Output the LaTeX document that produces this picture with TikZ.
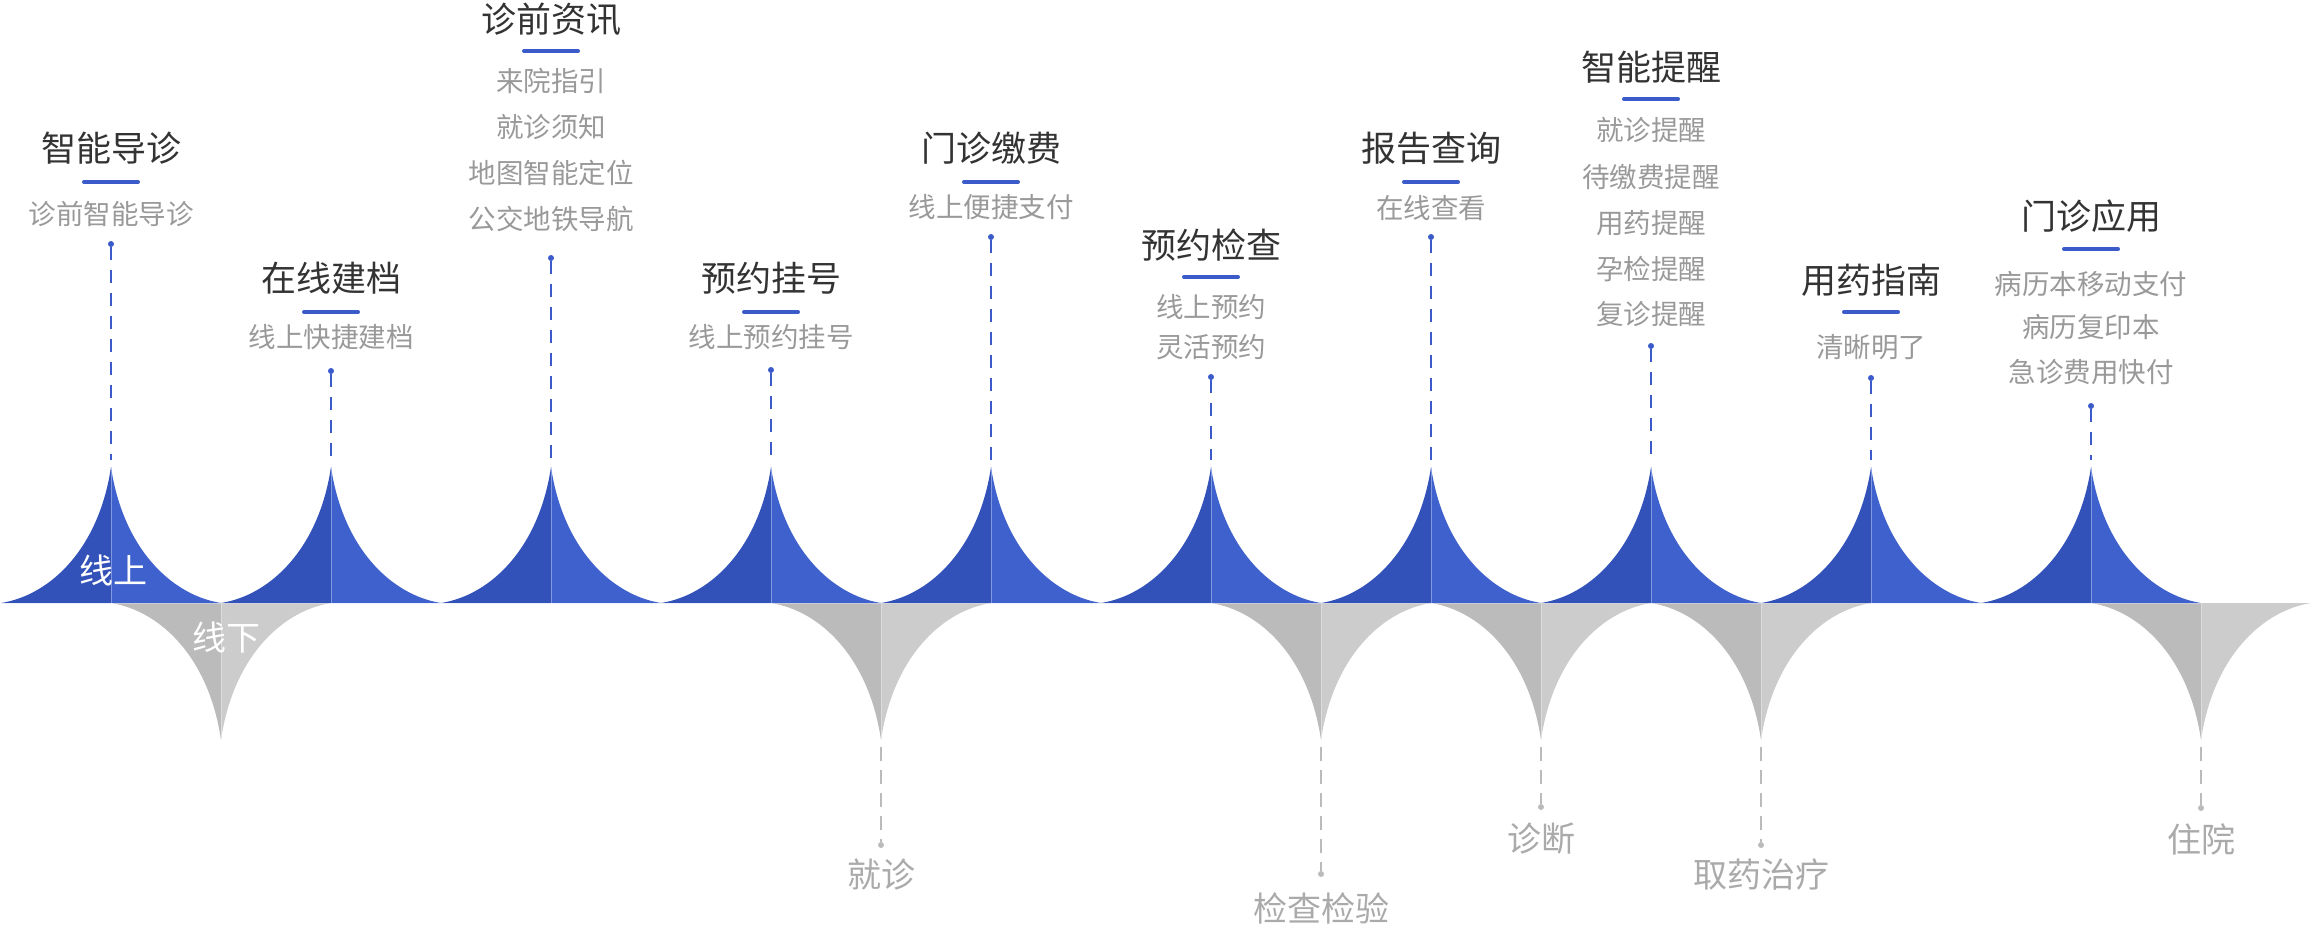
\documentclass[tikz,border=0pt]{standalone}
\usepackage{fontspec}
\setmainfont{Noto Sans CJK SC}
\definecolor{bluedark}{HTML}{3352B9}
\definecolor{bluelight}{HTML}{3F61CD}
\definecolor{greydark}{HTML}{BBBBBB}
\definecolor{greylight}{HTML}{CCCCCC}
\definecolor{linkblue}{HTML}{3B5BCB}
\definecolor{linkgrey}{HTML}{BBBBBB}
\definecolor{headtext}{HTML}{333333}
\definecolor{itemtext}{HTML}{999999}
\definecolor{stagetext}{HTML}{AAAAAA}
\begin{document}
\begin{tikzpicture}[x=1pt,y=-1pt,
    head/.style={text=headtext,inner sep=0pt,font=\fontsize{35}{35}\selectfont},
    item/.style={text=itemtext,inner sep=0pt,font=\fontsize{27.5}{27.5}\selectfont},
    stage/.style={text=stagetext,inner sep=0pt,font=\fontsize{34}{34}\selectfont},
    side/.style={text=white,inner sep=0pt,font=\fontsize{34}{34}\selectfont},
    bar/.style={draw=linkblue,line width=4pt,line cap=round},
    pin/.style={circle,fill=linkblue,inner sep=0pt,minimum size=6pt},
    gpin/.style={circle,fill=linkgrey,inner sep=0pt,minimum size=6pt},
    link/.style={draw=linkblue,line width=2pt,dash pattern=on 13pt off 10pt},
    glink/.style={draw=linkgrey,line width=2pt,dash pattern=on 14pt off 9pt},
    seam/.style={draw=white,opacity=0.35,line width=1pt}]
  \useasboundingbox (0,0) rectangle (2312,926);

  % offline cusps (below the line)
  \foreach \c in {221,881,1321,1541,1761,2201} {
    \fill[greydark] (\c-110,603) .. controls (\c-60,611) and (\c-12,658) .. (\c,740) -- (\c,603) -- cycle;
    \fill[greylight] (\c,740) .. controls (\c+12,658) and (\c+60,611) .. (\c+110,603) -- (\c,603) -- cycle;
    \draw[seam] (\c,603) -- (\c,736);
  }
  % online cusps (above the line)
  \foreach \x in {111,331,551,771,991,1211,1431,1651,1871,2091} {
    \fill[bluedark] (\x-110,603) .. controls (\x-60,595) and (\x-12,548) .. (\x,467) -- (\x,603) -- cycle;
    \fill[bluelight] (\x,467) .. controls (\x+12,548) and (\x+60,595) .. (\x+110,603) -- (\x,603) -- cycle;
    \draw[seam] (\x,471) -- (\x,603);
  }
  \draw[seam] (1,603) -- (2201,603);

  \node[side] (on) at (113,570) {线上};
  \node[side] (off) at (226,638) {线下};

  % tips of the cusps
  \coordinate (p1) at (111,460);
  \coordinate (p2) at (331,460);
  \coordinate (p3) at (551,460);
  \coordinate (p4) at (771,460);
  \coordinate (p5) at (991,460);
  \coordinate (p6) at (1211,460);
  \coordinate (p7) at (1431,460);
  \coordinate (p8) at (1651,460);
  \coordinate (p9) at (1871,460);
  \coordinate (p10) at (2091,460);
  \coordinate (q1) at (881,747);
  \coordinate (q2) at (1321,747);
  \coordinate (q3) at (1541,747);
  \coordinate (q4) at (1761,747);
  \coordinate (q5) at (2201,747);

  % online steps
  \node[head] (h1) at (111,148) {智能导诊};
  \draw[bar] (h1.center) ++(-27,34) -- ++(54,0);
  \node[item] (s1) at (111,214) {诊前智能导诊};
  \node[pin] (d1) at (111,244) {};

  \node[head] (h2) at (331,278) {在线建档};
  \draw[bar] (h2.center) ++(-27,34) -- ++(54,0);
  \node[item] (s2) at (331,337) {线上快捷建档};
  \node[pin] (d2) at (331,371) {};

  \node[head] (h3) at (551,19) {诊前资讯};
  \draw[bar] (h3.center) ++(-27,32) -- ++(54,0);
  \node[item] (s3a) at (551,81) {来院指引};
  \node[item] (s3b) at (551,127) {就诊须知};
  \node[item] (s3c) at (551,173) {地图智能定位};
  \node[item] (s3d) at (551,219) {公交地铁导航};
  \node[pin] (d3) at (551,258) {};

  \node[head] (h4) at (771,278) {预约挂号};
  \draw[bar] (h4.center) ++(-27,34) -- ++(54,0);
  \node[item] (s4) at (771,337) {线上预约挂号};
  \node[pin] (d4) at (771,370) {};

  \node[head] (h5) at (991,148) {门诊缴费};
  \draw[bar] (h5.center) ++(-27,34) -- ++(54,0);
  \node[item] (s5) at (991,207) {线上便捷支付};
  \node[pin] (d5) at (991,237) {};

  \node[head] (h6) at (1211,245) {预约检查};
  \draw[bar] (h6.center) ++(-27,32) -- ++(54,0);
  \node[item] (s6a) at (1211,307) {线上预约};
  \node[item] (s6b) at (1211,347) {灵活预约};
  \node[pin] (d6) at (1211,377) {};

  \node[head] (h7) at (1431,148) {报告查询};
  \draw[bar] (h7.center) ++(-27,34) -- ++(54,0);
  \node[item] (s7) at (1431,208) {在线查看};
  \node[pin] (d7) at (1431,237) {};

  \node[head] (h8) at (1651,67) {智能提醒};
  \draw[bar] (h8.center) ++(-27,32) -- ++(54,0);
  \node[item] (s8a) at (1651,130) {就诊提醒};
  \node[item] (s8b) at (1651,177) {待缴费提醒};
  \node[item] (s8c) at (1651,223) {用药提醒};
  \node[item] (s8d) at (1651,269) {孕检提醒};
  \node[item] (s8e) at (1651,314) {复诊提醒};
  \node[pin] (d8) at (1651,346) {};

  \node[head] (h9) at (1871,280) {用药指南};
  \draw[bar] (h9.center) ++(-27,32) -- ++(54,0);
  \node[item] (s9) at (1871,347) {清晰明了};
  \node[pin] (d9) at (1871,378) {};

  \node[head] (h10) at (2091,216) {门诊应用};
  \draw[bar] (h10.center) ++(-27,33) -- ++(54,0);
  \node[item] (s10a) at (2091,284) {病历本移动支付};
  \node[item] (s10b) at (2091,327) {病历复印本};
  \node[item] (s10c) at (2091,372) {急诊费用快付};
  \node[pin] (d10) at (2091,406) {};

  \draw[link] (d1) -- (p1);
  \draw[link] (d2) -- (p2);
  \draw[link] (d3) -- (p3);
  \draw[link] (d4) -- (p4);
  \draw[link] (d5) -- (p5);
  \draw[link] (d6) -- (p6);
  \draw[link] (d7) -- (p7);
  \draw[link] (d8) -- (p8);
  \draw[link] (d9) -- (p9);
  \draw[link] (d10) -- (p10);

  % offline steps
  \node[gpin] (e1) at (881,845) {};
  \node[stage] (t1) at (881,875) {就诊};
  \node[gpin] (e2) at (1321,874) {};
  \node[stage] (t2) at (1321,908) {检查检验};
  \node[gpin] (e3) at (1541,807) {};
  \node[stage] (t3) at (1541,839) {诊断};
  \node[gpin] (e4) at (1761,845) {};
  \node[stage] (t4) at (1761,875) {取药治疗};
  \node[gpin] (e5) at (2201,808) {};
  \node[stage] (t5) at (2201,839) {住院};

  \draw[glink] (q1) -- (e1);
  \draw[glink] (q2) -- (e2);
  \draw[glink] (q3) -- (e3);
  \draw[glink] (q4) -- (e4);
  \draw[glink] (q5) -- (e5);
\end{tikzpicture}
\end{document}
